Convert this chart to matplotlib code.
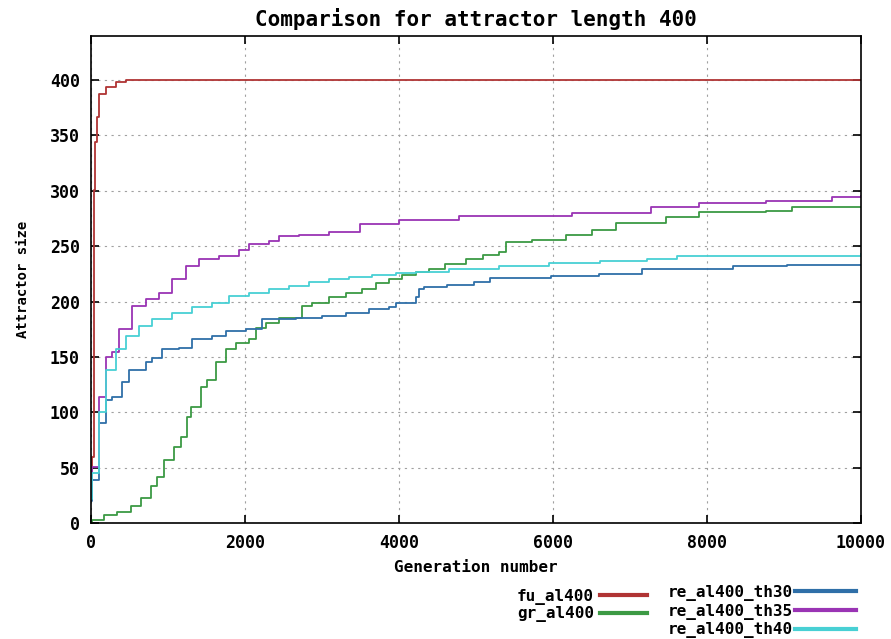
import numpy as np
import matplotlib.pyplot as plt

# valores (generacion, tamano del atractor)
fu_x = [0, 13, 39, 52, 82, 104, 191, 321, 451, 10000]
fu_y = [24, 60, 301, 344, 367, 387, 394, 398, 400, 400]

gr_x = [0, 9, 169, 338, 516, 646, 776, 857, 948, 1078, 1165, 1251, 1295, 1425, 1507,
        1620, 1750, 1880, 2052, 2140, 2270, 2442, 2659, 2741, 2871, 3091, 3308, 3520,
        3698, 3870, 4040, 4218, 4390, 4600, 4870, 5100, 5299, 5390, 5727, 6169,
        6507, 6818, 7468, 7896, 8766, 9104, 10000]
gr_y = [1, 3, 7, 10, 15, 23, 33, 42, 57, 69, 78, 96, 105, 123, 129,
        145, 157, 163, 166, 176, 181, 185, 185, 196, 199, 204, 208, 211,
        217, 220, 224, 227, 229, 234, 238, 242, 245, 254, 256, 260,
        265, 271, 276, 281, 282, 285, 285]

th30_x = [0, 17, 104, 191, 277, 403, 494, 711, 794, 924, 1143, 1313, 1572, 1750, 2010,
          2221, 2659, 3000, 3308, 3610, 3870, 3957, 4218, 4260, 4330, 4630, 4980, 5190,
          5850, 5980, 6600, 7160, 8340, 9040, 10000]
th30_y = [20, 39, 90, 111, 114, 127, 138, 145, 149, 157, 158, 166, 169, 173, 175,
          184, 185, 187, 190, 193, 195, 199, 204, 211, 213, 215, 218, 221,
          221, 223, 225, 229, 232, 233, 233]

th35_x = [0, 17, 104, 191, 277, 364, 533, 711, 883, 1052, 1230, 1403, 1663, 1793, 1922,
          2052, 2310, 2442, 2700, 3090, 3500, 4000, 4780, 6244, 7282, 7896, 8766, 9624, 10000]
th35_y = [25, 51, 114, 150, 154, 175, 196, 202, 208, 220, 232, 238, 241, 241, 247,
          252, 255, 259, 260, 263, 270, 274, 277, 280, 285, 289, 291, 294, 295]

th40_x = [0, 17, 104, 191, 321, 451, 624, 794, 1052, 1313, 1572, 1793, 2052, 2310, 2570,
          2830, 3091, 3350, 3650, 3957, 4218, 4650, 5299, 5950, 6610, 7220, 7610, 9210, 10000]
th40_y = [22, 45, 100, 138, 157, 169, 178, 184, 190, 195, 199, 205, 208, 211, 214,
          218, 220, 222, 224, 226, 227, 229, 232, 235, 237, 238, 241, 241, 243]

series = [
    ("fu_al400", fu_x, fu_y, "#b03434"),
    ("gr_al400", gr_x, gr_y, "#3c9a44"),
    ("re_al400_th30", th30_x, th30_y, "#2f6fa8"),
    ("re_al400_th35", th35_x, th35_y, "#9a34b4"),
    ("re_al400_th40", th40_x, th40_y, "#48d0d4"),
]

mono = "DejaVu Sans Mono"

fig = plt.figure(figsize=(8.91, 6.39), dpi=100)
ax = fig.add_axes([0.102, 0.1815, 0.864, 0.7625])

lines = []
for nombre, xs, ys, col in series:
    l, = ax.plot(xs, ys, drawstyle="steps-post", color=col, lw=1.3, label=nombre)
    lines.append(l)

ax.set_xlim(0, 10000)
ax.set_ylim(0, 440)
ax.set_xticks(np.arange(0, 10001, 2000))
ax.set_yticks(np.arange(0, 401, 50))
ax.grid(True, color="#a0a0a0", linestyle=(0, (2, 4)), lw=0.8)
ax.tick_params(direction="in", top=True, right=True, length=6, width=1.2,
               labelsize=12, pad=8)
for s in ax.spines.values():
    s.set_linewidth(1.2)
for t in ax.get_xticklabels() + ax.get_yticklabels():
    t.set_fontfamily(mono)
    t.set_fontweight("bold")

ax.set_title("Comparison for attractor length 400", fontfamily=mono, fontweight="bold",
             fontsize=15, pad=7)
ax.set_xlabel("Generation number", fontfamily=mono, fontweight="bold", fontsize=11.5, labelpad=6)
ax.set_ylabel("Attractor size", fontfamily=mono, fontweight="bold", fontsize=10, labelpad=14)

props = {"family": mono, "weight": "bold", "size": 11.5}
leg1 = fig.legend(lines[:2], [s[0] for s in series[:2]], loc="upper right",
                  bbox_to_anchor=(0.733, 0.089), markerfirst=False, frameon=False,
                  prop=props, handlelength=2.9, labelspacing=0.1, handletextpad=0.4,
                  borderaxespad=0)
for l in leg1.get_lines():
    l.set_linewidth(3)
leg2 = fig.legend(lines[2:], [s[0] for s in series[2:]], loc="upper right",
                  bbox_to_anchor=(0.968, 0.095), markerfirst=False, frameon=False,
                  prop=props, handlelength=3.8, labelspacing=0.18, handletextpad=0.15,
                  borderaxespad=0)
for l in leg2.get_lines():
    l.set_linewidth(3)

fig.savefig("out.png", dpi=100)
